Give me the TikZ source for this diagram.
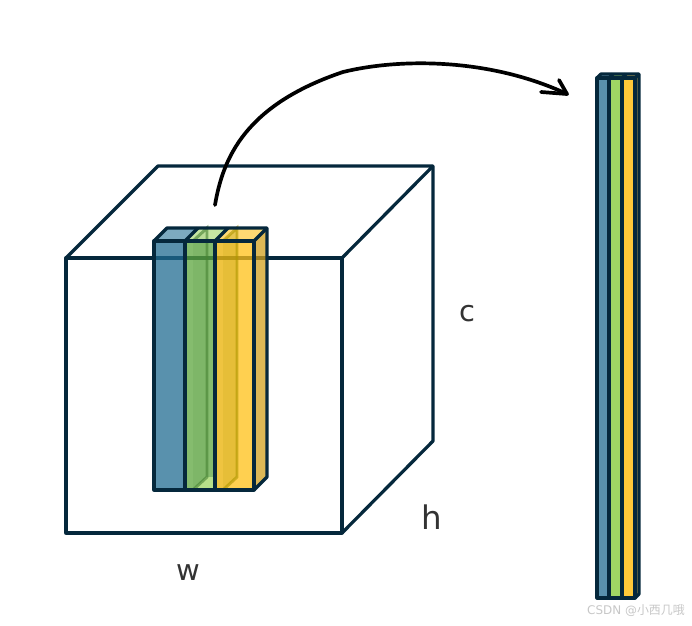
\documentclass[tikz,border=0pt]{standalone}
\usepackage{fontspec}
\setmainfont{DejaVu Sans}
\newfontfamily\cjk{Noto Sans CJK SC}
\usetikzlibrary{positioning}
\definecolor{edgenavy}{RGB}{5,40,60}
\definecolor{barblue}{RGB}{33,108,145}
\definecolor{bartopblue}{RGB}{125,170,192}
\definecolor{bargreen}{RGB}{92,166,62}
\definecolor{bargreenlight}{RGB}{160,214,100}
\definecolor{baryellow}{RGB}{255,192,22}
\definecolor{barside}{RGB}{208,160,30}
\definecolor{hiddengreen}{RGB}{70,130,50}
\definecolor{hiddenyellow}{RGB}{175,150,0}

\begin{document}
\begin{tikzpicture}[
    x=0.02cm,
    y=-0.02cm,
    every node/.style={inner sep=0pt},
    edge/.style={
        draw=edgenavy,
        line width=1.85pt,
        line join=round
    },
    face/.style={fill opacity=0.75},
    hidden/.style={
        line width=1.7pt,
        draw opacity=0.6,
        fill opacity=0.3
    },
    stroke/.style={
        draw=black,
        line width=2.1pt,
        line cap=round,
        line join=round
    },
    dimlabel/.style={text=black!80}
]

\useasboundingbox (0,0) rectangle (692,625);

% cube
\draw[edge] (66,258) -- (158,166) -- (433,166) -- (433,441) -- (342,533);
\draw[edge] (342,258) -- (433,166);
\draw[edge] (66,258) rectangle (342,533);

% tall bars
\fill[bargreenlight, fill opacity=0.6] (185,241) -- (198,228) -- (228,228) -- (215,241) -- cycle;
\fill[bargreen, face] (185,241) rectangle (215,490);
\fill[white] (193,490) -- (207,477) -- (215,477) -- (215,490) -- cycle;
\fill[bargreenlight, face] (193,490) -- (207,477) -- (215,477) -- (215,490) -- cycle;
\fill[bartopblue] (154,241) -- (167,228) -- (198,228) -- (185,241) -- cycle;
\fill[barblue, face] (154,241) rectangle (185,490);
\fill[baryellow, fill opacity=0.6] (215,241) -- (228,228) -- (267,228) -- (254,241) -- cycle;
\fill[baryellow, face] (215,241) rectangle (254,490);
\fill[barside, face] (254,241) -- (267,228) -- (267,477) -- (254,490) -- cycle;

\fill[hiddenyellow, fill opacity=0.2] (215,241) rectangle (223,490);
\filldraw[hidden, draw=hiddengreen, fill=hiddengreen, fill opacity=0.1] (193,241) -- (207,228) -- (207,477) -- (193,490);
\filldraw[hidden, draw=hiddenyellow, fill=hiddenyellow] (223,241) -- (237,228) -- (237,477) -- (223,490);

\draw[edge] (154,241) rectangle (185,490);
\draw[edge] (185,241) rectangle (215,490);
\draw[edge] (215,241) rectangle (254,490);
\draw[edge] (154,241) -- (167,228) -- (267,228) -- (267,477) -- (254,490);
\draw[edge] (185,241) -- (198,228);
\draw[edge] (215,241) -- (228,228);
\draw[edge] (254,241) -- (267,228);

% flat bars
\fill[barblue, face] (597,78) rectangle (609,598);
\fill[bargreenlight] (609,78) rectangle (622,598);
\fill[baryellow!85] (622,78) rectangle (635,598);
\fill[barside, face] (635,78) -- (639,74) -- (639,594) -- (635,598) -- cycle;
\fill[bartopblue] (597,78) -- (601,74) -- (613,74) -- (609,78) -- cycle;
\fill[bargreenlight] (609,78) -- (613,74) -- (626,74) -- (622,78) -- cycle;
\fill[baryellow!70] (622,78) -- (626,74) -- (639,74) -- (635,78) -- cycle;
\draw[edge] (597,78) rectangle (609,598);
\draw[edge] (609,78) rectangle (622,598);
\draw[edge] (622,78) rectangle (635,598);
\draw[edge] (597,78) -- (601,74) -- (639,74) -- (639,594) -- (635,598);
\draw[edge] (609,78) -- (613,74);
\draw[edge] (622,78) -- (626,74);
\draw[edge] (635,78) -- (639,74);

% arrow
\coordinate (arrowstart) at (215,205);
\coordinate (arrowend) at (567,94);
\coordinate (barbtop) at (559,80);
\coordinate (barblow) at (541,92);
\draw[stroke] (arrowstart) .. controls (223,158) and (245,105) .. (343,72) .. controls (400,58) and (490,58) .. (arrowend);
\draw[stroke] (barbtop) -- (arrowend) -- (barblow);

\node[dimlabel, font=\fontsize{16.5}{18}\selectfont] (depth) at (467,314) {c};
\node[dimlabel, font=\fontsize{18.5}{20}\selectfont] (height) at (432,517) {h};
\node[dimlabel, font=\fontsize{16.5}{18}\selectfont] (width) at (188,573) {w};
\node[text=black!22, font=\fontsize{6.8}{8}\selectfont] (mark) at (636,611) {CSDN @{\cjk 小西几哦}};

\end{tikzpicture}
\end{document}
